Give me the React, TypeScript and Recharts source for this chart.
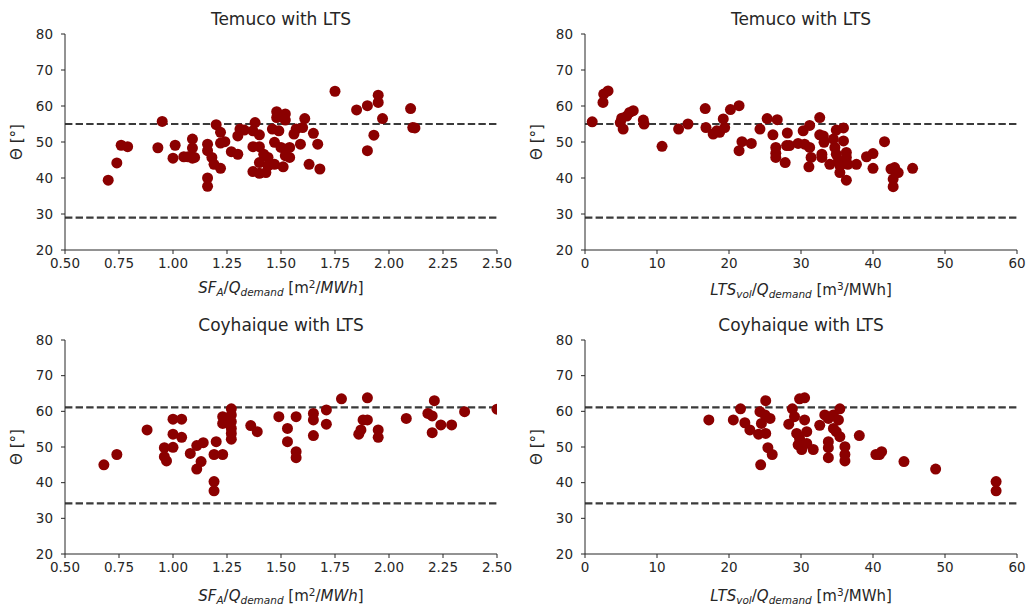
import React from "react";
import { ScatterChart, Scatter, XAxis, YAxis, ReferenceLine } from "recharts";

// Temuco: solar field area / demand vs theta
const temucoSF = [
  { x: 0.70, y: 39.4 }, { x: 0.74, y: 44.2 }, { x: 0.76, y: 49.1 }, { x: 0.79, y: 48.7 },
  { x: 0.93, y: 48.4 }, { x: 0.95, y: 55.7 }, { x: 1.01, y: 49.1 }, { x: 1.00, y: 45.5 },
  { x: 1.05, y: 45.9 }, { x: 1.09, y: 50.8 }, { x: 1.09, y: 48.3 }, { x: 1.09, y: 45.5 },
  { x: 1.07, y: 45.9 }, { x: 1.10, y: 45.7 }, { x: 1.16, y: 49.4 }, { x: 1.16, y: 47.6 },
  { x: 1.18, y: 45.7 }, { x: 1.19, y: 43.8 }, { x: 1.16, y: 40.0 }, { x: 1.16, y: 37.7 },
  { x: 1.20, y: 54.8 }, { x: 1.22, y: 52.7 }, { x: 1.22, y: 49.7 }, { x: 1.24, y: 50.1 },
  { x: 1.22, y: 42.7 }, { x: 1.27, y: 47.3 }, { x: 1.30, y: 46.6 }, { x: 1.30, y: 51.7 },
  { x: 1.31, y: 53.6 }, { x: 1.33, y: 53.3 }, { x: 1.38, y: 55.4 }, { x: 1.37, y: 53.1 },
  { x: 1.40, y: 52.0 }, { x: 1.37, y: 48.7 }, { x: 1.40, y: 48.7 }, { x: 1.42, y: 46.6 },
  { x: 1.44, y: 45.7 }, { x: 1.40, y: 44.3 }, { x: 1.37, y: 41.8 }, { x: 1.40, y: 41.3 },
  { x: 1.43, y: 41.5 }, { x: 1.44, y: 43.4 }, { x: 1.47, y: 43.8 }, { x: 1.47, y: 49.9 },
  { x: 1.46, y: 53.6 }, { x: 1.49, y: 53.1 }, { x: 1.48, y: 56.8 }, { x: 1.48, y: 58.4 },
  { x: 1.51, y: 56.8 }, { x: 1.52, y: 57.8 }, { x: 1.52, y: 56.1 }, { x: 1.50, y: 48.5 },
  { x: 1.52, y: 48.0 }, { x: 1.54, y: 48.5 }, { x: 1.52, y: 46.2 }, { x: 1.54, y: 45.7 },
  { x: 1.51, y: 43.1 }, { x: 1.56, y: 52.2 }, { x: 1.57, y: 53.6 }, { x: 1.59, y: 49.4 },
  { x: 1.61, y: 56.5 }, { x: 1.60, y: 54.0 }, { x: 1.63, y: 43.8 }, { x: 1.65, y: 52.4 },
  { x: 1.67, y: 49.4 }, { x: 1.68, y: 42.5 }, { x: 1.75, y: 64.1 }, { x: 1.85, y: 58.9 },
  { x: 1.90, y: 60.1 }, { x: 1.90, y: 47.6 }, { x: 1.93, y: 51.9 }, { x: 1.95, y: 63.0 },
  { x: 1.95, y: 61.0 }, { x: 1.97, y: 56.5 }, { x: 2.10, y: 59.3 }, { x: 2.11, y: 54.0 },
  { x: 2.12, y: 53.9 },
];

// Temuco: storage volume / demand vs theta
const temucoLTS = [
  { x: 1.0, y: 55.6 }, { x: 2.5, y: 61.0 }, { x: 2.6, y: 63.3 }, { x: 3.2, y: 64.2 },
  { x: 4.9, y: 55.4 }, { x: 5.1, y: 56.6 }, { x: 5.3, y: 53.6 }, { x: 5.8, y: 57.2 },
  { x: 6.2, y: 58.2 }, { x: 6.7, y: 58.7 }, { x: 8.1, y: 56.1 }, { x: 8.2, y: 55.0 },
  { x: 10.7, y: 48.8 }, { x: 13.0, y: 53.6 }, { x: 14.3, y: 55.0 }, { x: 16.7, y: 59.3 },
  { x: 16.8, y: 54.0 }, { x: 17.8, y: 52.2 }, { x: 18.3, y: 53.1 }, { x: 18.7, y: 52.7 },
  { x: 19.2, y: 56.4 }, { x: 19.4, y: 54.0 }, { x: 20.2, y: 59.0 }, { x: 21.4, y: 60.1 },
  { x: 21.4, y: 47.6 }, { x: 21.8, y: 50.1 }, { x: 23.1, y: 49.6 }, { x: 24.3, y: 53.6 },
  { x: 25.3, y: 56.5 }, { x: 26.1, y: 52.0 }, { x: 26.7, y: 56.2 }, { x: 26.5, y: 48.5 },
  { x: 26.5, y: 46.9 }, { x: 26.5, y: 45.7 }, { x: 27.8, y: 44.3 }, { x: 28.1, y: 52.5 },
  { x: 28.0, y: 49.0 }, { x: 28.4, y: 49.0 }, { x: 29.6, y: 49.6 }, { x: 30.3, y: 53.1 },
  { x: 30.5, y: 49.4 }, { x: 31.2, y: 54.6 }, { x: 31.2, y: 48.5 }, { x: 31.4, y: 45.7 },
  { x: 31.1, y: 43.1 }, { x: 32.6, y: 56.8 }, { x: 32.6, y: 52.0 }, { x: 33.1, y: 51.7 },
  { x: 33.2, y: 49.9 }, { x: 32.9, y: 46.6 }, { x: 32.9, y: 45.7 }, { x: 34.0, y: 43.8 },
  { x: 34.5, y: 50.8 }, { x: 34.7, y: 48.5 }, { x: 34.9, y: 53.3 }, { x: 35.9, y: 53.9 },
  { x: 34.9, y: 46.6 }, { x: 35.2, y: 44.8 }, { x: 35.4, y: 43.4 }, { x: 35.4, y: 41.5 },
  { x: 35.9, y: 50.3 }, { x: 36.3, y: 47.1 }, { x: 36.3, y: 45.7 }, { x: 36.5, y: 43.8 },
  { x: 36.3, y: 39.4 }, { x: 37.7, y: 43.8 }, { x: 39.1, y: 45.9 }, { x: 40.0, y: 46.8 },
  { x: 40.0, y: 42.7 }, { x: 41.6, y: 50.1 }, { x: 42.5, y: 42.5 }, { x: 43.0, y: 42.9 },
  { x: 43.5, y: 41.5 }, { x: 42.8, y: 39.7 }, { x: 42.8, y: 37.6 }, { x: 45.5, y: 42.7 },
];

// Coyhaique: solar field area / demand vs theta
const coyhaiqueSF = [
  { x: 0.68, y: 45.0 }, { x: 0.74, y: 47.9 }, { x: 0.88, y: 54.8 }, { x: 0.96, y: 49.8 },
  { x: 0.96, y: 47.3 }, { x: 0.97, y: 46.1 }, { x: 1.00, y: 57.8 }, { x: 1.04, y: 57.8 },
  { x: 1.00, y: 53.6 }, { x: 1.04, y: 52.7 }, { x: 1.00, y: 49.9 }, { x: 1.08, y: 48.2 },
  { x: 1.11, y: 50.4 }, { x: 1.14, y: 51.2 }, { x: 1.13, y: 45.9 }, { x: 1.11, y: 43.8 },
  { x: 1.20, y: 51.5 }, { x: 1.19, y: 47.9 }, { x: 1.23, y: 47.9 }, { x: 1.19, y: 40.3 },
  { x: 1.19, y: 37.7 }, { x: 1.23, y: 58.5 }, { x: 1.23, y: 56.6 }, { x: 1.24, y: 57.6 },
  { x: 1.27, y: 60.7 }, { x: 1.27, y: 59.0 }, { x: 1.27, y: 57.1 }, { x: 1.27, y: 55.2 },
  { x: 1.27, y: 53.8 }, { x: 1.27, y: 52.2 }, { x: 1.36, y: 56.0 }, { x: 1.39, y: 54.3 },
  { x: 1.49, y: 58.5 }, { x: 1.53, y: 55.2 }, { x: 1.53, y: 51.5 }, { x: 1.57, y: 58.5 },
  { x: 1.57, y: 48.7 }, { x: 1.57, y: 47.0 }, { x: 1.65, y: 59.4 }, { x: 1.65, y: 57.6 },
  { x: 1.65, y: 53.2 }, { x: 1.71, y: 60.4 }, { x: 1.71, y: 56.4 }, { x: 1.78, y: 63.5 },
  { x: 1.90, y: 63.8 }, { x: 1.88, y: 57.6 }, { x: 1.90, y: 57.6 }, { x: 1.87, y: 54.8 },
  { x: 1.86, y: 53.6 }, { x: 1.95, y: 54.8 }, { x: 1.95, y: 52.7 }, { x: 2.08, y: 58.0 },
  { x: 2.18, y: 59.4 }, { x: 2.20, y: 58.7 }, { x: 2.21, y: 63.0 }, { x: 2.20, y: 54.0 },
  { x: 2.24, y: 56.2 }, { x: 2.29, y: 56.2 }, { x: 2.35, y: 59.9 }, { x: 2.50, y: 60.6 },
];

// Coyhaique: storage volume / demand vs theta
const coyhaiqueLTS = [
  { x: 17.2, y: 57.6 }, { x: 20.6, y: 57.6 }, { x: 21.6, y: 60.7 }, { x: 22.2, y: 56.8 },
  { x: 22.9, y: 54.8 }, { x: 24.1, y: 53.6 }, { x: 24.3, y: 59.9 }, { x: 24.5, y: 56.6 },
  { x: 25.1, y: 63.0 }, { x: 25.0, y: 59.0 }, { x: 25.7, y: 58.0 }, { x: 25.1, y: 53.8 },
  { x: 25.4, y: 49.8 }, { x: 26.0, y: 47.9 }, { x: 24.4, y: 45.0 }, { x: 28.3, y: 56.4 },
  { x: 28.8, y: 60.7 }, { x: 29.1, y: 58.5 }, { x: 29.8, y: 63.5 }, { x: 30.5, y: 63.8 },
  { x: 30.5, y: 57.6 }, { x: 29.4, y: 53.8 }, { x: 30.8, y: 54.3 }, { x: 29.8, y: 52.4 },
  { x: 29.6, y: 50.6 }, { x: 30.1, y: 49.3 }, { x: 30.8, y: 51.0 }, { x: 31.7, y: 49.3 },
  { x: 32.6, y: 56.1 }, { x: 33.3, y: 59.0 }, { x: 33.8, y: 58.0 }, { x: 34.5, y: 59.0 },
  { x: 35.4, y: 60.7 }, { x: 35.2, y: 57.6 }, { x: 33.8, y: 51.5 }, { x: 33.8, y: 49.8 },
  { x: 33.8, y: 47.0 }, { x: 34.9, y: 54.3 }, { x: 35.4, y: 52.9 }, { x: 36.1, y: 50.1 },
  { x: 36.1, y: 47.9 }, { x: 36.1, y: 46.1 }, { x: 34.5, y: 55.2 }, { x: 38.1, y: 53.2 },
  { x: 40.4, y: 47.9 }, { x: 40.9, y: 47.9 }, { x: 41.2, y: 48.7 }, { x: 44.3, y: 45.9 },
  { x: 48.7, y: 43.8 }, { x: 57.1, y: 40.3 }, { x: 57.1, y: 37.7 },
];

const sfTicks = [0.5, 0.75, 1.0, 1.25, 1.5, 1.75, 2.0, 2.25, 2.5];
const ltsTicks = [0, 10, 20, 30, 40, 50, 60];
const thetaTicks = [20, 30, 40, 50, 60, 70, 80];
const temucoLimits = [55, 29];
const coyhaiqueLimits = [61.1, 34.2];

const FONT = "'DejaVu Sans', sans-serif";
const INK = "#262626";

const Dot = (props: any) => (
  <circle cx={props.cx} cy={props.cy} r={5.5} fill="#8b0000" />
);

const sub = { fontSize: "0.7em", verticalAlign: "-0.3em", lineHeight: 0 } as const;
const sup = { fontSize: "0.7em", verticalAlign: "0.45em", lineHeight: 0 } as const;

const SFLabel = () => (
  <span>
    <i>SF</i><span style={sub}><i>A</i></span>/<i>Q</i><span style={sub}><i>demand</i></span> [m<span style={sup}>2</span>/<i>MWh</i>]
  </span>
);

const LTSLabel = () => (
  <span>
    <i>LTS</i><span style={sub}><i>vol</i></span>/<i>Q</i><span style={sub}><i>demand</i></span> [m<span style={sup}>3</span>/MWh]
  </span>
);

type PanelProps = {
  left: number;
  top: number;
  plotH: number;
  title: string;
  data: { x: number; y: number }[];
  xDomain: [number, number];
  xTicks: number[];
  xFmt: (v: number) => string;
  limits: number[];
  label: React.ReactNode;
  labelY: number;
};

function Panel({ left, top, plotH, title, data, xDomain, xTicks, xFmt, limits, label, labelY }: PanelProps) {
  const W = 520;
  const H = 300;
  const mTop = 34;
  const axisH = 40;
  const plotL = 65;
  const plotW = 432;
  return (
    <div style={{ position: "absolute", left, top, width: W, height: H, fontFamily: FONT }}>
      <ScatterChart
        width={W}
        height={H}
        margin={{ top: mTop, left: plotL - 40, right: W - plotL - plotW, bottom: H - mTop - plotH - axisH }}
      >
        <XAxis
          type="number"
          dataKey="x"
          domain={xDomain}
          ticks={xTicks}
          allowDataOverflow
          tickFormatter={xFmt}
          height={axisH}
          stroke={INK}
          tickSize={4}
          tickMargin={4}
          tick={{ fill: INK, fontSize: 13.5, fontFamily: FONT }}
        />
        <XAxis xAxisId="top" orientation="top" type="number" domain={xDomain} height={0} tick={false} tickLine={false} stroke={INK} />
        <YAxis
          type="number"
          dataKey="y"
          domain={[20, 80]}
          ticks={thetaTicks}
          allowDataOverflow
          width={40}
          stroke={INK}
          tickSize={4}
          tickMargin={8}
          tick={{ fill: INK, fontSize: 13.5, fontFamily: FONT }}
        />
        <YAxis yAxisId="right" orientation="right" domain={[20, 80]} width={0} tick={false} tickLine={false} stroke={INK} />
        {limits.map((v) => (
          <ReferenceLine key={v} y={v} stroke="#3a3a3a" strokeWidth={2.2} strokeDasharray="7.4 3.2" />
        ))}
        <Scatter data={data} shape={Dot} isAnimationActive={false} />
      </ScatterChart>
      <div style={{ position: "absolute", left: plotL + plotW / 2, top: 8, transform: "translateX(-50%)", fontSize: 17, color: INK, whiteSpace: "nowrap", lineHeight: "22px" }}>
        {title}
      </div>
      <div style={{ position: "absolute", left: plotL + plotW / 2, top: labelY, transform: "translateX(-50%)", fontSize: 15, color: INK, whiteSpace: "nowrap", lineHeight: "20px" }}>
        {label}
      </div>
      <div style={{ position: "absolute", left: 17, top: mTop + plotH / 2, transform: "translate(-50%, -50%) rotate(-90deg)", fontSize: 15, color: INK, whiteSpace: "nowrap", lineHeight: "18px" }}>
        Θ [°]
      </div>
    </div>
  );
}

const fmtSF = (v: number) => v.toFixed(2);
const fmtLTS = (v: number) => String(v);

export default function App() {
  return (
    <div style={{ position: "absolute", left: 0, top: 0, width: 1031, height: 614, background: "#fff" }}>
      <Panel left={0} top={0} plotH={216} title="Temuco with LTS" data={temucoSF} xDomain={[0.5, 2.5]} xTicks={sfTicks} xFmt={fmtSF} limits={temucoLimits} label={<SFLabel />} labelY={278} />
      <Panel left={520} top={0} plotH={216} title="Temuco with LTS" data={temucoLTS} xDomain={[0, 60]} xTicks={ltsTicks} xFmt={fmtLTS} limits={temucoLimits} label={<LTSLabel />} labelY={280} />
      <Panel left={0} top={306} plotH={214} title="Coyhaique with LTS" data={coyhaiqueSF} xDomain={[0.5, 2.5]} xTicks={sfTicks} xFmt={fmtSF} limits={coyhaiqueLimits} label={<SFLabel />} labelY={280} />
      <Panel left={520} top={306} plotH={214} title="Coyhaique with LTS" data={coyhaiqueLTS} xDomain={[0, 60]} xTicks={ltsTicks} xFmt={fmtLTS} limits={coyhaiqueLimits} label={<LTSLabel />} labelY={280} />
    </div>
  );
}
